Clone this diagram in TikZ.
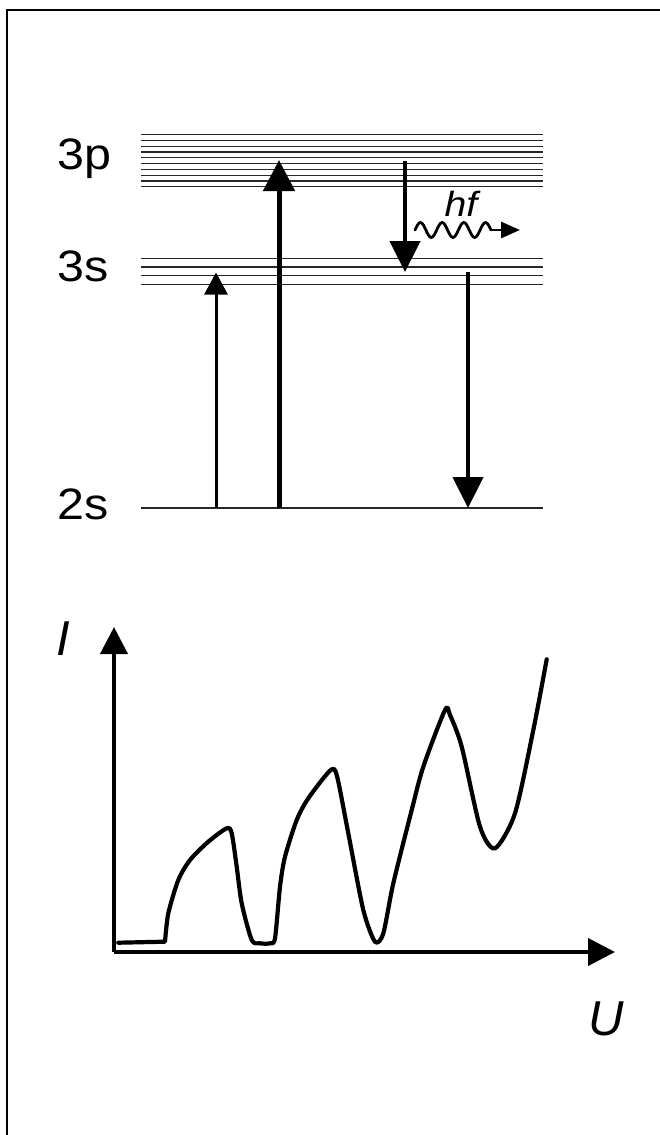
\documentclass[tikz,border=0pt]{standalone}
\usepackage{fontspec}
\setmainfont{Liberation Sans}
\newfontfamily\lvlfont[FakeStretch=1.1]{Liberation Sans}
\newfontfamily\hffont[FakeStretch=1.12]{Liberation Sans}
\usetikzlibrary{arrows.meta}
\tikzset{
  level/.style={line width=1.2pt, black!85},
  lvllabel/.style={anchor=base west, inner sep=0pt, font=\lvlfont\fontsize{44}{44}\selectfont},
  axlabel/.style={anchor=base, inner sep=0pt, font=\fontsize{49}{49}\selectfont\itshape},
  thinup/.style={line width=3pt, -{Triangle[length=22pt,width=23pt]}},
  thickarr/.style={line width=5pt, -{Triangle[length=31pt,width=31pt]}},
  downarr/.style={line width=4.5pt, -{Triangle[length=31pt,width=30pt]}},
  axis/.style={line width=4pt, -{Triangle[length=27pt,width=27pt]}},
  curve/.style={line width=4.2pt, line join=round, line cap=round},
  frame/.style={line width=2pt},
}
\begin{document}
\begin{tikzpicture}[x=1pt,y=-1pt]
\useasboundingbox (0,0) rectangle (659,1135);
% frame (top and left edges only)
\draw[frame] (7,1136) -- (7,10) -- (660,10);

% energy levels
\foreach \i in {0,...,9} {
  \draw[level] (141,{134.7+5.78*\i}) -- (543,{134.7+5.78*\i});
}
\foreach \i in {0,...,3} {
  \draw[level] (141,{258.3+8.67*\i}) -- (543,{258.3+8.67*\i});
}
\draw[level] (141,508) -- (543,508);

\node[lvllabel] (l3p) at (57,169) {3p};
\node[lvllabel] (l3s) at (57,281) {3s};
\node[lvllabel] (l2s) at (57,519.5) {2s};

% transitions
\coordinate (a1s) at (216,508);
\coordinate (a1e) at (216,272.5);
\coordinate (a2s) at (279,508);
\coordinate (a2e) at (279,160);
\coordinate (a3s) at (405,161);
\coordinate (a3e) at (405,272);
\coordinate (a4s) at (468,272);
\coordinate (a4e) at (468,508);
\draw[thinup] (a1s) -- (a1e);
\draw[thickarr] (a2s) -- (a2e);
\draw[downarr] (a3s) -- (a3e);
\draw[downarr] (a4s) -- (a4e);

% photon
\coordinate (ws) at (415,230);
\coordinate (wm) at (490.95,230);
\coordinate (we) at (520,230);
\draw[line width=2.8pt, line cap=round, line join=round]
  (ws) sin (420.425,222.5) cos (425.85,230) sin (431.275,237.5) cos (436.7,230)
  sin (442.125,222.5) cos (447.55,230) sin (452.975,237.5) cos (458.4,230)
  sin (463.825,222.5) cos (469.25,230) sin (474.675,237.5) cos (480.1,230)
  sin (485.525,222.5) cos (wm);
\draw[line width=2.8pt, -{Triangle[length=19pt,width=16pt]}] (wm) -- (we);
\node[anchor=base, inner sep=0pt, font=\hffont\fontsize{35}{35}\selectfont\itshape] (hf) at (461,216) {hf};

% graph axes
\coordinate (O) at (114,952);
\coordinate (Itop) at (114,627);
\coordinate (Uend) at (615,952);
\draw[axis] (O) -- (Itop);
\draw[axis] (O) -- (Uend);
\node[axlabel] (I) at (63,655) {I};
\node[axlabel] (U) at (606,1035) {U};

% curve
\draw[curve] (118.3,942.7) -- (164,941.7) -- plot[smooth, tension=0.45] coordinates {
 (165,941.7) (168.3,913.3) (178.3,880) (190,860) (208.3,841.7)
 (226.7,828.3) (231.7,833.3) (236.7,866.7) (241.7,903.3) (251.7,940) (260,943.3)
 (270,943.3) (275,938.3) (280,886.7) (285,856.7) (296.7,820) (308.3,798.3)
 (330,770.7) (336.7,775) (348.3,833.3) (363.3,910) (375,941.7) (383.3,933.3)
 (393.3,883.3) (411.7,810) (423.3,766.7) (445,710) (450,715) (461.7,746.7)
 (480,826.7) (495,848.3) (515,813.3) (533.3,730) (546.7,659.3)
};
\end{tikzpicture}
\end{document}
